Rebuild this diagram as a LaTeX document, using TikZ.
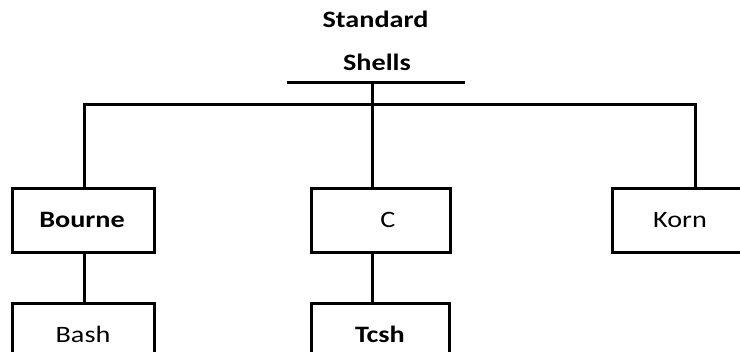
\documentclass[tikz,border=0pt]{standalone}
\usepackage{fontspec}
\setmainfont{Carlito}
\usepackage{graphicx}
\usetikzlibrary{calc}
\newcommand{\widetxt}[1]{\scalebox{1.2}[1]{#1}}
\tikzset{
  treeline/.style={line width=3pt, line cap=rect},
  shellbox/.style={draw, line width=3pt, inner sep=0pt, minimum width=142pt, minimum height=64pt,
    text height=15pt, text depth=2pt, font=\fontsize{23.5}{28}\selectfont},
  titletext/.style={inner sep=0pt, anchor=base, font=\fontsize{23.5}{28}\selectfont\bfseries}
}
\begin{document}
\begin{tikzpicture}[x=1pt,y=1pt]
\useasboundingbox (0,0) rectangle (740,-352);
\begin{scope}
\clip (0,0) rectangle (740,-352);
\node[titletext] (std) at (375.5,-28) {\widetxt{Standard}};
\node[titletext] (shl) at (377,-71) {\widetxt{Shells}};

\node[shellbox] (bourne) at (83,-221) {\hspace*{-2pt}\widetxt{\bfseries Bourne}};
\node[shellbox, minimum width=139pt] (c) at (380.5,-221) {\hspace*{15pt}\widetxt{C}};
\node[shellbox] (korn) at (683,-221) {\hspace*{-6pt}\widetxt{Korn}};
\node[shellbox] (bash) at (83,-336) {\widetxt{Bash}};
\node[shellbox, minimum width=138pt] (tcsh) at (380,-336) {\widetxt{\bfseries Tcsh}};

\coordinate (barL) at (288,-83);
\coordinate (barR) at (463,-83);
\coordinate (stem) at (372,-83);
\coordinate (hub) at (372,-105);

\draw[treeline] (barL) -- (barR);
\draw[treeline] (stem) -- (hub);
\draw[treeline] ($(bourne.north)+(1,0)$) |- (hub) -| ($(korn.north)+(12,0)$);
\draw[treeline] (hub) -- ($(c.north)+(-8.5,0)$);
\draw[treeline] ($(bourne.south)+(1,0)$) -- ($(bash.north)+(1,0)$);
\draw[treeline] ($(c.south)+(-8.5,0)$) -- ($(tcsh.north)+(-8,0)$);
\end{scope}
\end{tikzpicture}
\end{document}
